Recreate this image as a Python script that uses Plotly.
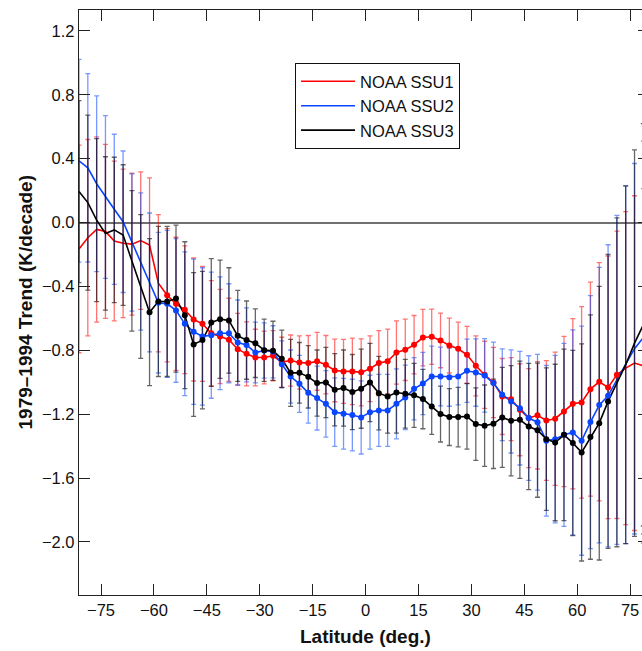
import plotly.graph_objects as go

# Zonal-mean temperature trends, 1979-1994, on 2.5-degree latitude bands
latitude = [-81.25, -78.75, -76.25, -73.75, -71.25, -68.75, -66.25, -63.75, -61.25, -58.75,
            -56.25, -53.75, -51.25, -48.75, -46.25, -43.75, -41.25, -38.75, -36.25, -33.75,
            -31.25, -28.75, -26.25, -23.75, -21.25, -18.75, -16.25, -13.75, -11.25, -8.75,
            -6.25, -3.75, -1.25, 1.25, 3.75, 6.25, 8.75, 11.25, 13.75, 16.25,
            18.75, 21.25, 23.75, 26.25, 28.75, 31.25, 33.75, 36.25, 38.75, 41.25,
            43.75, 46.25, 48.75, 51.25, 53.75, 56.25, 58.75, 61.25, 63.75, 66.25,
            68.75, 71.25, 73.75, 76.25, 78.75, 81.25]

ssu1 = [-0.165, -0.095, -0.043, -0.055, -0.115, -0.13, -0.135, -0.113, -0.14, -0.38,
        -0.455, -0.509, -0.546, -0.607, -0.634, -0.693, -0.713, -0.734, -0.793, -0.822,
        -0.845, -0.845, -0.834, -0.874, -0.864, -0.876, -0.88, -0.869, -0.89, -0.926,
        -0.932, -0.932, -0.938, -0.915, -0.88, -0.869, -0.813, -0.797, -0.765, -0.72,
        -0.715, -0.738, -0.77, -0.79, -0.828, -0.897, -0.953, -1.001, -1.089, -1.106,
        -1.172, -1.224, -1.207, -1.239, -1.228, -1.183, -1.135, -1.126, -1.043, -0.997,
        -1.032, -0.953, -0.911, -0.88, -0.897, -0.92]
ssu1_err = [0.65, 0.615, 0.58, 0.545, 0.50, 0.465, 0.445, 0.43, 0.42, 0.43,
            0.417, 0.417, 0.40, 0.385, 0.36, 0.33, 0.295, 0.26, 0.225, 0.20,
            0.177, 0.165, 0.157, 0.156, 0.16, 0.167, 0.173, 0.181, 0.183, 0.196,
            0.20, 0.208, 0.21, 0.206, 0.204, 0.202, 0.198, 0.192, 0.183, 0.177,
            0.173, 0.171, 0.172, 0.166, 0.178, 0.188, 0.21, 0.22, 0.238, 0.26,
            0.288, 0.31, 0.336, 0.375, 0.417, 0.471, 0.533, 0.60, 0.67, 0.746,
            0.822, 0.90, 0.98, 1.048, 1.11, 1.17]

ssu2 = [0.387, 0.343, 0.243, 0.16, 0.083, 0.005, -0.125, -0.244, -0.375, -0.502,
        -0.509, -0.55, -0.634, -0.684, -0.713, -0.705, -0.693, -0.693, -0.751, -0.766,
        -0.814, -0.801, -0.809, -0.887, -0.964, -1.01, -1.066, -1.099, -1.135, -1.187,
        -1.197, -1.205, -1.22, -1.187, -1.176, -1.176, -1.135, -1.095, -1.041, -1.008,
        -0.964, -0.964, -0.968, -0.964, -0.928, -0.939, -0.957, -1.005, -1.078, -1.12,
        -1.162, -1.224, -1.25, -1.366, -1.356, -1.329, -1.314, -1.366, -1.249, -1.143,
        -1.085, -0.985, -0.89, -0.79, -0.72, -0.65]
ssu2_err = [0.635, 0.59, 0.55, 0.51, 0.47, 0.443, 0.43, 0.43, 0.435, 0.44,
            0.46, 0.45, 0.45, 0.455, 0.43, 0.395, 0.353, 0.31, 0.266, 0.232,
            0.19, 0.173, 0.163, 0.146, 0.166, 0.179, 0.19, 0.20, 0.208, 0.214,
            0.221, 0.224, 0.229, 0.231, 0.225, 0.225, 0.219, 0.202, 0.195, 0.195,
            0.19, 0.184, 0.182, 0.178, 0.198, 0.211, 0.23, 0.256, 0.287, 0.323,
            0.356, 0.39, 0.425, 0.472, 0.525, 0.573, 0.642, 0.717, 0.792, 0.863,
            0.946, 1.03, 1.12, 1.16, 1.23, 1.3]

ssu3 = [0.194, 0.125, 0.015, -0.068, -0.046, -0.078, -0.24, -0.40, -0.561, -0.494,
        -0.494, -0.476, -0.58, -0.763, -0.736, -0.626, -0.605, -0.613, -0.709, -0.736,
        -0.755, -0.799, -0.803, -0.853, -0.941, -0.941, -0.966, -1.005, -1.001, -1.047,
        -1.036, -1.061, -1.04, -1.001, -1.068, -1.089, -1.064, -1.072, -1.082, -1.105,
        -1.151, -1.199, -1.218, -1.218, -1.214, -1.262, -1.272, -1.26, -1.22, -1.241,
        -1.235, -1.277, -1.3, -1.356, -1.377, -1.329, -1.38, -1.439, -1.343, -1.256,
        -1.12, -1.0, -0.89, -0.755, -0.64, -0.55]
ssu3_err = [0.57, 0.548, 0.51, 0.48, 0.455, 0.44, 0.44, 0.45, 0.46, 0.47,
            0.47, 0.46, 0.46, 0.45, 0.43, 0.40, 0.37, 0.33, 0.285, 0.245,
            0.215, 0.195, 0.185, 0.18, 0.21, 0.19, 0.195, 0.207, 0.22, 0.226,
            0.238, 0.235, 0.248, 0.245, 0.23, 0.229, 0.254, 0.215, 0.20, 0.186,
            0.175, 0.175, 0.178, 0.186, 0.205, 0.227, 0.255, 0.28, 0.313, 0.345,
            0.367, 0.395, 0.42, 0.446, 0.49, 0.537, 0.58, 0.68, 0.765, 0.857,
            0.92, 1.03, 1.12, 1.21, 1.26, 1.32]

# Latitude band over which each channel's trends are marked with dots
ssu1_dots = (-56.25, 71.25)
ssu2_dots = (-58.75, 68.75)
ssu3_dots = (-61.25, 68.75)

x_ticks = [-75, -60, -45, -30, -15, 0, 15, 30, 45, 60, 75]
y_ticks = [-2.0, -1.6, -1.2, -0.8, -0.4, 0.0, 0.4, 0.8, 1.2]

FONT = "Liberation Sans, Arial, Helvetica, sans-serif"

series = [
    ("NOAA SSU1", ssu1, ssu1_err, ssu1_dots, "#ff0000", "rgba(255,0,0,0.55)"),
    ("NOAA SSU2", ssu2, ssu2_err, ssu2_dots, "#0a46ff", "rgba(10,70,255,0.55)"),
    ("NOAA SSU3", ssu3, ssu3_err, ssu3_dots, "#000000", "rgba(0,0,0,0.6)"),
]

fig = go.Figure()
for name, vals, errs, (lo, hi), color, err_color in series:
    fig.add_trace(go.Scatter(
        x=latitude, y=vals, name=name, mode="lines",
        line=dict(color=color, width=1.6),
        error_y=dict(type="data", array=errs, visible=True,
                     color=err_color, thickness=1.3, width=2.5),
    ))
for name, vals, errs, (lo, hi), color, err_color in series:
    dot_x = [la for la in latitude if lo <= la <= hi]
    dot_y = [v for la, v in zip(latitude, vals) if lo <= la <= hi]
    # dots live on the right-hand twin of the value axis (same range)
    fig.add_trace(go.Scatter(
        x=dot_x, y=dot_y, mode="markers", showlegend=False, hoverinfo="skip",
        yaxis="y2", marker=dict(color=color, size=6, line=dict(width=0)),
    ))

axis_common = dict(
    showline=True, linecolor="#222222", linewidth=1.3,
    ticks="inside", ticklen=11, tickwidth=1.3, tickcolor="#222222",
    showgrid=False, tickfont=dict(family=FONT, size=16.5, color="#111111"),
)

fig.update_layout(
    width=642, height=651,
    margin=dict(l=79, r=0, t=10, b=56),
    paper_bgcolor="white", plot_bgcolor="white",
    font=dict(family=FONT, size=16.5, color="#111111"),
    xaxis=dict(range=[-81.25, 78.37], tickvals=x_ticks, mirror="ticks",
               zeroline=False, **axis_common),
    yaxis=dict(range=[-2.332, 1.331], tickvals=y_ticks, tickformat=".1f",
               zeroline=True, zerolinecolor="#707070", zerolinewidth=1.6,
               **axis_common),
    yaxis2=dict(range=[-2.332, 1.331], matches="y", overlaying="y", side="right",
                tickvals=y_ticks, ticks="inside", ticklen=4, tickwidth=1.3,
                tickcolor="#222222", showticklabels=False, showline=False,
                showgrid=False, zeroline=False),
    legend=dict(x=0.3837, y=0.9094, xanchor="left", yanchor="top",
                bordercolor="#111111", borderwidth=1, bgcolor="white",
                itemwidth=54,
                font=dict(family=FONT, size=16.5, color="#111111")),
    showlegend=True,
    annotations=[
        dict(text="<b>Latitude (deg.)</b>", x=0, xref="x", y=-0.0701, yref="paper",
             xanchor="center", yanchor="middle", showarrow=False,
             font=dict(family=FONT, size=19, color="#111111")),
        dict(text="<b>1979\u20131994 Trend (K/decade)</b>", x=-0.0959, xref="paper",
             y=0.5, yref="paper", textangle=-90, xanchor="center", yanchor="middle",
             showarrow=False, font=dict(family=FONT, size=19, color="#111111")),
    ],
)

fig.write_html("out.html")
